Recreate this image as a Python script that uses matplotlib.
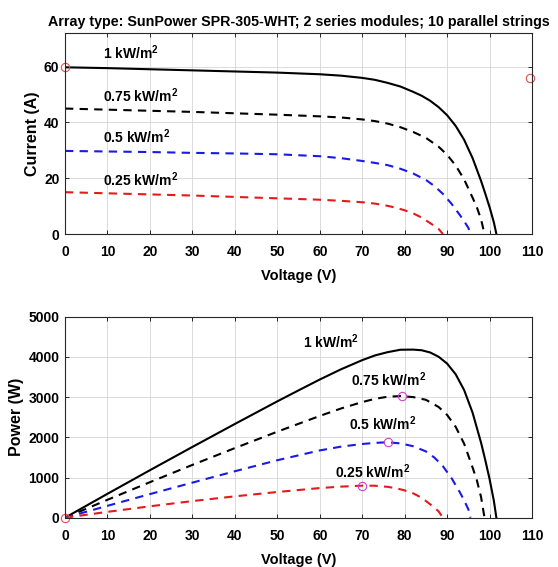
import matplotlib
matplotlib.use("Agg")
import matplotlib.pyplot as plt

# ---- data (I-V and P-V of the PV array) ----
V_1000 = [0, 10, 20, 30, 40, 50, 55, 60, 65, 70, 73, 76, 79, 82, 84, 86, 88, 90,
          92, 94, 96, 98, 99, 100, 101, 101.6]
I_1000 = [59.8, 59.5, 59.1, 58.7, 58.3, 57.9, 57.6, 57.3, 56.8, 56.0, 55.3, 54.2,
          52.9, 51.0, 49.6, 47.8, 45.5, 42.6, 38.8, 33.8, 27.2, 19.0, 14.4, 9.6, 4.2, 0]
P_1000 = [0, 595, 1182, 1761, 2332, 2895, 3168, 3438, 3692, 3920, 4037, 4119,
          4179, 4182, 4166, 4111, 4004, 3834, 3570, 3177, 2611, 1862, 1426, 960, 424, 0]

V_750 = [0, 10, 20, 30, 40, 50, 60, 65, 70, 73, 76, 79, 82, 85, 88, 90, 92, 94,
         96, 97, 98, 98.8]
I_750 = [45.0, 44.6, 44.2, 43.8, 43.3, 42.8, 42.2, 41.8, 41.1, 40.5, 39.6, 38.3,
         36.6, 34.5, 31.3, 28.4, 24.6, 19.6, 13.0, 9.6, 5.2, 0]
P_750 = [0, 446, 884, 1314, 1732, 2140, 2532, 2717, 2877, 2957, 3010, 3026,
         3001, 2933, 2754, 2556, 2263, 1842, 1248, 931, 510, 0]

V_500 = [0, 10, 20, 30, 40, 50, 60, 65, 70, 73, 76, 79, 82, 85, 87, 89, 91, 93,
         94, 95, 95.5]
I_500 = [29.8, 29.6, 29.4, 29.1, 28.9, 28.6, 27.9, 27.2, 26.2, 25.5, 24.7, 23.4,
         21.7, 19.4, 17.2, 14.4, 10.9, 6.8, 4.6, 2.2, 0]
P_500 = [0, 296, 588, 873, 1156, 1430, 1674, 1768, 1834, 1862, 1877, 1849,
         1779, 1649, 1496, 1282, 992, 632, 432, 209, 0]

V_250 = [0, 10, 20, 30, 40, 50, 60, 65, 70, 73, 76, 78, 80, 82, 84, 86, 87, 88, 89]
I_250 = [15.0, 14.6, 14.2, 13.8, 13.3, 12.8, 12.3, 11.9, 11.4, 10.9, 10.1, 9.4,
         8.5, 7.4, 5.9, 3.9, 2.9, 1.8, 0]
P_250 = [0, 146, 284, 414, 532, 640, 738, 774, 798, 796, 768, 733, 680, 607,
         496, 335, 252, 158, 0]

# red circle markers
IV_MARK_V = [0, 109.5]
IV_MARK_I = [59.8, 56.0]
PV_MARK_V = [0]
PV_MARK_P = [0]
# magenta maximum power points
MPP_V = [79.3, 76.1, 69.9]
MPP_P = [3025, 1877, 790]

LABELS = ["1 kW/m$^2$", "0.75 kW/m$^2$", "0.5 kW/m$^2$", "0.25 kW/m$^2$"]
IV_LABEL_POS = [(8.9, 65.0), (8.9, 49.7), (8.9, 34.9), (8.9, 19.5)]
PV_LABEL_POS = [(56.0, 4385), (67.4, 3443), (66.8, 2336), (63.6, 1148)]

TITLE = "Array type: SunPower SPR-305-WHT; 2 series modules; 10 parallel strings"

FONT = ["Liberation Sans", "DejaVu Sans"]
DASH = (0, (4, 3))


def style_axes(ax, yticks):
    ax.set_xlim(0, 110)
    ax.set_xticks(range(0, 111, 10))
    ax.set_yticks(yticks)
    ax.grid(True, color="#d6d6d6", lw=0.6)
    ax.set_axisbelow(True)
    ax.tick_params(direction="in", length=3, width=0.7, top=True, right=True,
                   labelsize=10, colors="#262626", labelcolor="black")
    ax.tick_params(axis="x", pad=8)
    ax.tick_params(axis="y", pad=4)
    for lab in ax.get_xticklabels() + ax.get_yticklabels():
        lab.set_fontweight("bold")
    for sp in ax.spines.values():
        sp.set_color("#262626")
        sp.set_linewidth(0.8)
    ax.set_xlabel("Voltage (V)", fontsize=10.5, fontweight="bold", labelpad=7)


def main():
    plt.rcParams["font.family"] = FONT
    plt.rcParams["mathtext.fontset"] = "custom"
    plt.rcParams["mathtext.rm"] = "Liberation Sans:bold"
    plt.rcParams["mathtext.it"] = "Liberation Sans:bold"
    plt.rcParams["mathtext.bf"] = "Liberation Sans:bold"

    fig = plt.figure(figsize=(5.58, 5.67), dpi=100, facecolor="white")
    ax1 = fig.add_axes([0.1165, 0.5873, 0.837, 0.354])
    ax2 = fig.add_axes([0.1165, 0.0869, 0.837, 0.3545])

    # ---- I-V ----
    ax1.plot(V_1000, I_1000, color="black", lw=1.5)
    ax1.plot(V_750, I_750, color="black", lw=1.5, ls=DASH)
    ax1.plot(V_500, I_500, color="#1a1ae6", lw=1.5, ls=DASH)
    ax1.plot(V_250, I_250, color="#e61a1a", lw=1.5, ls=DASH)
    ax1.plot(IV_MARK_V, IV_MARK_I, ls="none", marker="o", ms=6, mfc="none",
             mec="#e05050", mew=0.8, clip_on=False)
    for txt, (x, y) in zip(LABELS, IV_LABEL_POS):
        ax1.text(x, y, txt, fontsize=10, fontweight="bold", va="center")
    ax1.set_ylim(0, 72)
    style_axes(ax1, [0, 20, 40, 60])
    ax1.set_ylabel("Current (A)", fontsize=11.5, fontweight="bold", labelpad=3)
    ax1.set_title(TITLE, fontsize=10.3, fontweight="bold", pad=5)

    # ---- P-V ----
    ax2.plot(V_1000, P_1000, color="black", lw=1.5)
    ax2.plot(V_750, P_750, color="black", lw=1.5, ls=DASH)
    ax2.plot(V_500, P_500, color="#1a1ae6", lw=1.5, ls=DASH)
    ax2.plot(V_250, P_250, color="#e61a1a", lw=1.5, ls=DASH)
    ax2.plot(PV_MARK_V, PV_MARK_P, ls="none", marker="o", ms=6, mfc="none",
             mec="#e05050", mew=0.8, clip_on=False)
    ax2.plot(MPP_V, MPP_P, ls="none", marker="o", ms=6, mfc="none",
             mec="#d040d0", mew=0.8)
    for txt, (x, y) in zip(LABELS, PV_LABEL_POS):
        ax2.text(x, y, txt, fontsize=10, fontweight="bold", va="center")
    ax2.set_ylim(0, 5000)
    style_axes(ax2, [0, 1000, 2000, 3000, 4000, 5000])
    ax2.set_ylabel("Power (W)", fontsize=11.5, fontweight="bold", labelpad=3)

    fig.savefig("out.png", dpi=100, facecolor="white")


if __name__ == "__main__":
    main()
